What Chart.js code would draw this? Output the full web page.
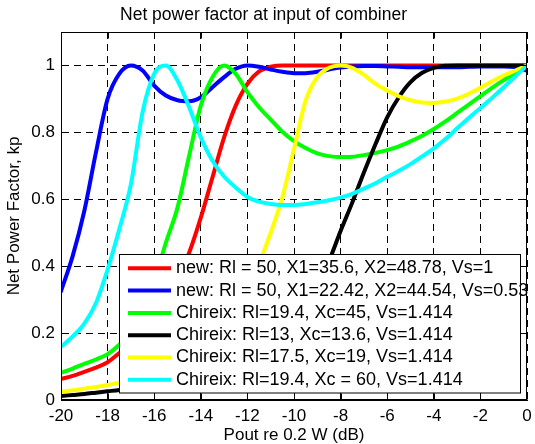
<!DOCTYPE html>
<html>
<head>
<meta charset="utf-8">
<title>Net power factor at input of combiner</title>
<script src="https://cdn.jsdelivr.net/npm/chart.js@4"></script>
<style>
  html, body { margin: 0; padding: 0; background: #fff; }
</style>
</head>
<body>
<canvas id="pfChart" width="535" height="444"></canvas>
<script>
// Pout re 0.2 W, in dB (0.5 dB steps)
const poutDb = [-20, -19.5, -19, -18.5, -18, -17.5, -17, -16.5, -16, -15.5, -15,
  -14.5, -14, -13.5, -13, -12.5, -12, -11.5, -11, -10.5, -10,
  -9.5, -9, -8.5, -8, -7.5, -7, -6.5, -6, -5.5, -5,
  -4.5, -4, -3.5, -3, -2.5, -2, -1.5, -1, -0.5, 0];

const xTicks = [-20, -18, -16, -14, -12, -10, -8, -6, -4, -2, 0];
const yTicks = [0, 0.2, 0.4, 0.6, 0.8, 1];

const seriesNames = [
  "new: Rl = 50, X1=35.6, X2=48.78, Vs=1",
  "new: Rl = 50, X1=22.42, X2=44.54, Vs=0.53",
  "Chireix: Rl=19.4, Xc=45, Vs=1.414",
  "Chireix: Rl=13, Xc=13.6, Vs=1.414",
  "Chireix: Rl=17.5, Xc=19, Vs=1.414",
  "Chireix: Rl=19.4, Xc = 60, Vs=1.414"
];
const seriesColors = ["#ff0000", "#0000ff", "#00ff00", "#000000", "#ffff00", "#00ffff"];

// net power factor values
const newVs1 = [0.063, 0.072, 0.084, 0.097, 0.113, 0.14, 0.165, 0.198, 0.238, 0.29, 0.355,
  0.44, 0.545, 0.665, 0.785, 0.88, 0.945, 0.982, 0.996, 1, 1,
  1, 1, 1, 1, 1, 1, 1, 1, 1, 1,
  1, 1, 1, 1, 1, 1, 1, 1, 1, 1];
const newVs053 = [0.325, 0.43, 0.565, 0.74, 0.9, 0.975, 1, 0.985, 0.94, 0.91, 0.896,
  0.893, 0.905, 0.935, 0.965, 0.99, 1, 0.996, 0.988, 0.981, 0.977,
  0.977, 0.981, 0.988, 0.994, 0.997, 0.998, 0.998, 0.997, 0.996, 0.995,
  0.995, 0.995, 0.995, 0.995, 0.996, 0.997, 0.997, 0.997, 0.995, 0.985];
const chireixXc45 = [0.081, 0.094, 0.108, 0.121, 0.137, 0.165, 0.205, 0.265, 0.355, 0.47, 0.575,
  0.73, 0.88, 0.965, 1, 0.975, 0.92, 0.875, 0.838, 0.802, 0.774,
  0.753, 0.737, 0.729, 0.726, 0.727, 0.732, 0.739, 0.747, 0.758, 0.773,
  0.79, 0.81, 0.833, 0.858, 0.883, 0.908, 0.933, 0.956, 0.978, 1];
const chireixXc136 = [0.012, 0.015, 0.018, 0.022, 0.026, 0.03, 0.035, 0.04, 0.045, 0.05, 0.056,
  0.063, 0.07, 0.078, 0.088, 0.1, 0.114, 0.132, 0.155, 0.185, 0.225,
  0.275, 0.34, 0.415, 0.505, 0.59, 0.68, 0.765, 0.845, 0.905, 0.95,
  0.978, 0.993, 0.999, 1, 1, 1, 1, 1, 1, 1];
const chireixXc19 = [0.025, 0.029, 0.034, 0.039, 0.045, 0.052, 0.06, 0.069, 0.079, 0.091, 0.105,
  0.122, 0.143, 0.17, 0.205, 0.25, 0.31, 0.405, 0.5, 0.605, 0.75,
  0.895, 0.965, 0.993, 1, 0.993, 0.972, 0.945, 0.925, 0.908, 0.896,
  0.889, 0.888, 0.892, 0.901, 0.915, 0.933, 0.953, 0.97, 0.985, 1];
const chireixXc60 = [0.159, 0.19, 0.228, 0.29, 0.39, 0.51, 0.645, 0.86, 0.975, 1, 0.955,
  0.875, 0.785, 0.715, 0.668, 0.635, 0.607, 0.593, 0.586, 0.583, 0.583,
  0.586, 0.591, 0.597, 0.605, 0.616, 0.632, 0.648, 0.667, 0.685, 0.705,
  0.728, 0.752, 0.78, 0.812, 0.843, 0.873, 0.903, 0.935, 0.967, 1];

const allSeries = [newVs1, newVs053, chireixXc45, chireixXc136, chireixXc19, chireixXc60];

const FONT = '"Liberation Sans", Arial, Helvetica, sans-serif';

// matlab-like box: top/right edges, inward ticks, legend in the lower right
const matlabFrame = {
  id: "matlabFrame",
  afterDraw(chart) {
    const { ctx, chartArea: a, scales: { x, y } } = chart;
    const L = Math.round(a.left) + 0.5, R = Math.round(a.right) - 0.5;
    const T = Math.round(a.top) + 0.5, B = Math.round(a.bottom) - 0.5;
    ctx.save();
    ctx.setLineDash([]);
    ctx.strokeStyle = "#000";
    ctx.lineWidth = 1;
    ctx.strokeRect(L, T, R - L, B - T);

    ctx.beginPath();
    xTicks.forEach(v => {
      const px = Math.round(x.getPixelForValue(v)) + 0.5;
      ctx.moveTo(px, B); ctx.lineTo(px, B - 6);
      ctx.moveTo(px, T); ctx.lineTo(px, T + 6);
    });
    yTicks.forEach(v => {
      const py = Math.round(y.getPixelForValue(v)) + 0.5;
      ctx.moveTo(L, py); ctx.lineTo(L + 6, py);
      ctx.moveTo(R, py); ctx.lineTo(R - 6, py);
    });
    ctx.stroke();

    // legend
    const box = { left: 119.5, top: 254.5, right: 520.5, bottom: 393 };
    ctx.fillStyle = "#fff";
    ctx.fillRect(box.left, box.top, box.right - box.left, box.bottom - box.top);
    ctx.strokeRect(box.left, box.top, box.right - box.left, box.bottom - box.top);
    ctx.font = "18px " + FONT;
    ctx.textBaseline = "middle";
    ctx.textAlign = "left";
    chart.data.datasets.forEach((ds, i) => {
      const rowY = 268.3 + i * 22.3;
      ctx.strokeStyle = ds.borderColor;
      ctx.lineWidth = 4;
      ctx.beginPath();
      ctx.moveTo(128, rowY); ctx.lineTo(171, rowY);
      ctx.stroke();
      ctx.fillStyle = "#000";
      ctx.fillText(ds.label, 176, rowY);
    });
    ctx.restore();
  }
};

const datasets = allSeries.map((vals, i) => ({
  label: seriesNames[i],
  data: poutDb.map((db, j) => ({ x: db, y: vals[j] })),
  borderColor: seriesColors[i],
  borderWidth: 4,
  pointRadius: 0,
  fill: false,
  cubicInterpolationMode: "monotone",
  borderCapStyle: "round",
  borderJoinStyle: "round",
  order: allSeries.length - i
}));

const ctx = document.getElementById("pfChart").getContext("2d");

new Chart(ctx, {
  type: "line",
  data: { datasets },
  options: {
    responsive: false,
    animation: false,
    events: [],
    layout: { padding: { left: 0, right: 8, top: 0, bottom: 0 } },
    plugins: {
      legend: { display: false },
      tooltip: { enabled: false },
      title: {
        display: true,
        text: "Net power factor at input of combiner",
        color: "#000",
        font: { family: FONT, size: 17.5, weight: "normal", lineHeight: 1.2 },
        padding: { top: 5, bottom: 6 }
      }
    },
    scales: {
      x: {
        type: "linear",
        min: -20,
        max: 0,
        afterBuildTicks: s => { s.ticks = xTicks.map(v => ({ value: v })); },
        afterFit: s => { s.height = 44; s.paddingLeft = 0; s.paddingRight = 0; },
        ticks: {
          color: "#000",
          font: { family: FONT, size: 17 },
          padding: 6,
          maxRotation: 0,
          autoSkip: false,
          callback: v => String(v)
        },
        grid: { color: "#000", lineWidth: 1, drawTicks: false },
        border: { color: "#000", width: 1, dash: [7, 5] },
        title: {
          display: true,
          text: "Pout re 0.2 W (dB)",
          color: "#000",
          font: { family: FONT, size: 17, lineHeight: 1 },
          padding: { top: 0, bottom: 0 }
        }
      },
      y: {
        type: "linear",
        min: 0,
        max: 1.1,
        afterBuildTicks: s => { s.ticks = yTicks.map(v => ({ value: v })); },
        afterFit: s => { s.width = 61; s.paddingTop = 0; s.paddingBottom = 0; },
        ticks: {
          color: "#000",
          font: { family: FONT, size: 17 },
          padding: 6,
          callback: v => String(v)
        },
        grid: { color: "#000", lineWidth: 1, drawTicks: false },
        border: { color: "#000", width: 1, dash: [7, 5] },
        title: {
          display: true,
          text: "Net Power Factor, kp",
          color: "#000",
          font: { family: FONT, size: 17, lineHeight: 1 },
          padding: { top: 6, bottom: 0 }
        }
      }
    }
  },
  plugins: [matlabFrame]
});
</script>
</body>
</html>
